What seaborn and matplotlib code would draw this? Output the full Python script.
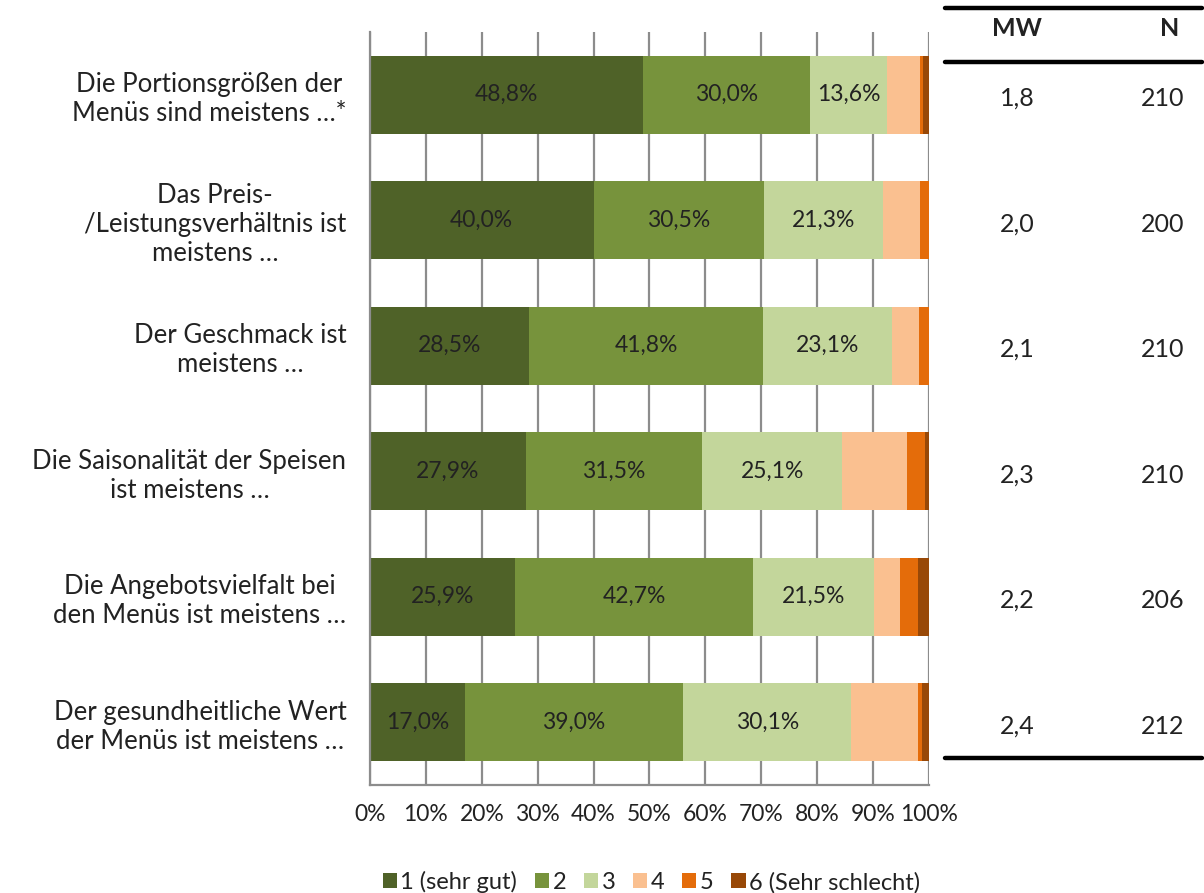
import matplotlib
matplotlib.use("Agg")
import matplotlib.pyplot as plt
import matplotlib.transforms as mtransforms
from matplotlib.lines import Line2D
from matplotlib.patches import Patch
import seaborn as sns
import numpy as np

# Aussagen (Kategorien, von oben nach unten)
aussagen = [
    "Die Portionsgrößen der\nMenüs sind meistens …*",
    "Das Preis-\n/Leistungsverhältnis ist\nmeistens …",
    "Der Geschmack ist\nmeistens …",
    "Die Saisonalität der Speisen\nist meistens …",
    "Die Angebotsvielfalt bei\nden Menüs ist meistens …",
    "Der gesundheitliche Wert\nder Menüs ist meistens …",
]
stufen = ["1 (sehr gut)", "2", "3", "4", "5", "6 (Sehr schlecht)"]
farben = ["#4f6228", "#77933c", "#c3d69b", "#fac090", "#e46c0a", "#984807"]

# Anteile in % je Stufe
s1 = [48.8, 40.0, 28.5, 27.9, 25.9, 17.0]
s2 = [30.0, 30.5, 41.8, 31.5, 42.7, 39.0]
s3 = [13.6, 21.3, 23.1, 25.1, 21.5, 30.1]
s4 = [5.9, 6.5, 4.8, 11.5, 4.8, 11.9]
s5 = [0.6, 1.7, 1.8, 3.2, 3.2, 0.7]
s6 = [1.1, 0.0, 0.0, 0.8, 1.9, 1.3]

# Tabelle rechts
mw = ["1,8", "2,0", "2,1", "2,3", "2,2", "2,4"]
n = [210, 200, 210, 210, 206, 212]

sns.set_theme(style="white")
plt.rcParams["font.family"] = ["Lato", "DejaVu Sans"]
grau = "#8c8c8c"
textfarbe = "#222222"

fig = plt.figure(figsize=(12.04, 8.93), dpi=100)
ax = fig.add_axes([0.3073, 0.1209, 0.4643, 0.8433])

werte = np.array([s1, s2, s3, s4, s5, s6])
kum = werte.cumsum(axis=0)

# gestapelte Balken: kumulierte Summen von hinten nach vorne zeichnen
for i in reversed(range(len(stufen))):
    sns.barplot(x=kum[i], y=aussagen, orient="h", color=farben[i],
                saturation=1, width=0.62, linewidth=0, ax=ax, zorder=2)

# Beschriftung der Segmente 1-3
for i in range(3):
    for j in range(len(aussagen)):
        mitte = kum[i][j] - werte[i][j] / 2
        ax.text(mitte, j, f"{werte[i][j]:.1f}%".replace(".", ","),
                ha="center", va="center", fontsize=16.5, color=textfarbe, zorder=3)

ax.set_xlim(0, 100)
ax.set_ylim(len(aussagen) - 0.5, -0.5)
ax.set_xticks(np.arange(0, 101, 10))
ax.set_xticklabels([f"{v}%" for v in range(0, 101, 10)], fontsize=16.5, color=textfarbe)
ax.set_xlabel("")
ax.set_ylabel("")

ax.set_yticks(np.arange(-0.5, len(aussagen), 1), minor=True)
ax.tick_params(axis="y", which="major", length=0, pad=17, labelsize=18.5, labelcolor=textfarbe)
ax.tick_params(axis="y", which="minor", length=5, width=1.6, color=grau, direction="out")
ax.tick_params(axis="x", which="major", length=7, width=1.6, color=grau, direction="out", pad=7)
for lbl in ax.get_yticklabels():
    lbl.set_multialignment("center")

ax.xaxis.grid(True, color=grau, linewidth=1.6)
ax.set_axisbelow(True)
for s in ["top", "right"]:
    ax.spines[s].set_visible(False)
for s in ["left", "bottom"]:
    ax.spines[s].set_color(grau)
    ax.spines[s].set_linewidth(1.6)

# Tabelle MW / N
x0, x1 = 0.785, 0.998
for yy in [0.991, 0.9306, 0.1512]:
    fig.add_artist(Line2D([x0, x1], [yy, yy], color="black", linewidth=3.2,
                          transform=fig.transFigure))
fig.text(0.8447, 0.9686, "MW", ha="center", va="center", fontsize=18,
         fontweight="bold", color=textfarbe)
fig.text(0.9718, 0.9686, "N", ha="center", va="center", fontsize=18,
         fontweight="bold", color=textfarbe)
trans = mtransforms.blended_transform_factory(fig.transFigure, ax.transData)
for j in range(len(aussagen)):
    ax.text(0.8447, j + 0.03, mw[j], ha="center", va="center", fontsize=18,
            color=textfarbe, transform=trans, clip_on=False)
    ax.text(0.966, j + 0.03, str(n[j]), ha="center", va="center", fontsize=18,
            color=textfarbe, transform=trans, clip_on=False)

# Legende
handles = [Patch(facecolor=c, edgecolor="none") for c in farben]
fig.legend(handles, stufen, loc="lower center", bbox_to_anchor=(0.541, -0.024),
           ncol=6, frameon=False, fontsize=17, handlelength=0.6, handleheight=0.6,
           handletextpad=0.15, columnspacing=0.75, labelcolor=textfarbe)

fig.savefig("out.png", dpi=100)
